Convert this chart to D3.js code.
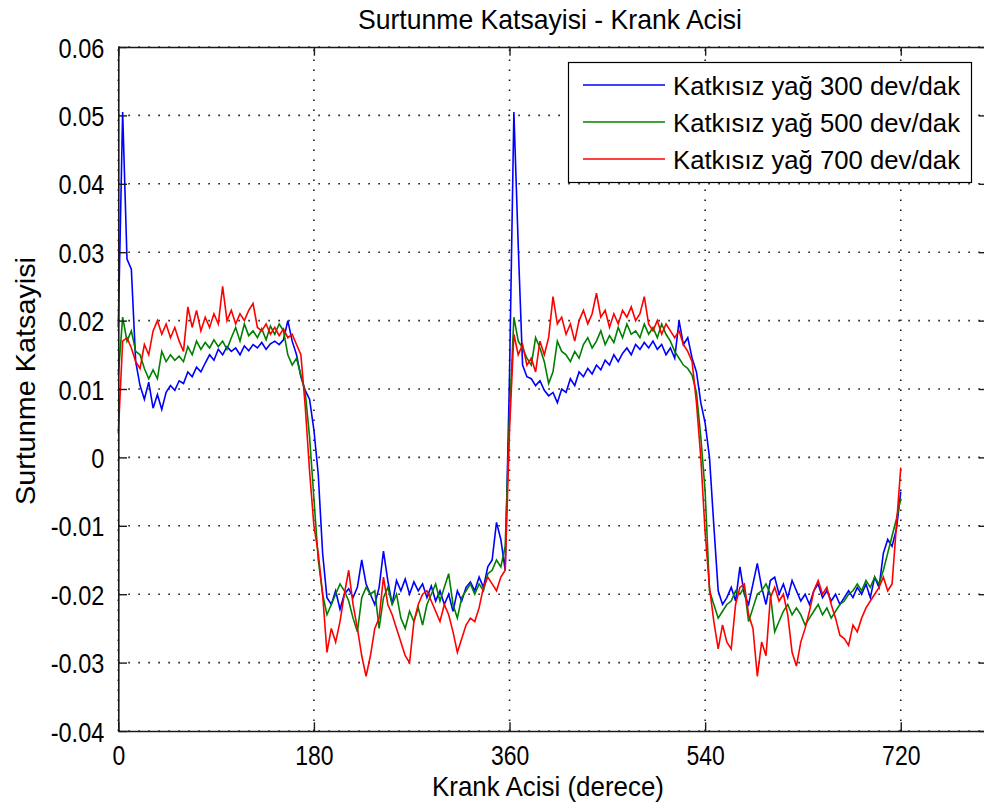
<!DOCTYPE html>
<html>
<head>
<meta charset="utf-8">
<script src="https://cdn.jsdelivr.net/npm/d3@7"></script>
<style>
  body { margin: 0; background: #fff; }
  svg { display: block; }
  text { font-family: 'Liberation Sans', Arial, sans-serif; fill: #000; }
</style>
</head>
<body>
<svg id="chart" width="984" height="809"></svg>
<script>
// Crank angle samples (degrees)
const angles = [
  0,4,8,12,16,20,24,28,32,36,40,44,48,52,56,60,64,68,72,76,80,84,88,92,96,100,
  104,108,112,116,120,124,128,132,136,140,144,148,152,156,160,164,168,172,176,180,
  184,188,192,196,200,204,208,212,216,220,224,228,232,236,240,244,248,252,256,260,
  264,268,272,276,280,284,288,292,296,300,304,308,312,316,320,324,328,332,336,340,
  344,348,352,356,360,364,368,372,376,380,384,388,392,396,400,404,408,412,416,420,
  424,428,432,436,440,444,448,452,456,460,464,468,472,476,480,484,488,492,496,500,
  504,508,512,516,520,524,528,532,536,540,544,548,552,556,560,564,568,572,576,580,
  584,588,592,596,600,604,608,612,616,620,624,628,632,636,640,644,648,652,656,660,
  664,668,672,676,680,684,688,692,696,700,704,708,712,716,720
];

// Friction coefficient, plain oil at 300 rpm
const oil300 = [
  0.0190,0.0505,0.0290,0.0275,0.0140,0.0105,0.0085,0.0110,0.0072,0.0092,0.0070,0.0095,0.0105,0.0098,0.0112,0.0108,
  0.0125,0.0118,0.0132,0.0125,0.0138,0.0150,0.0142,0.0158,0.0150,0.0162,0.0155,0.0160,0.0150,0.0163,0.0156,0.0165,
  0.0160,0.0168,0.0158,0.0166,0.0170,0.0165,0.0172,0.0200,0.0170,0.0150,0.0118,0.0098,0.0085,0.0040,
  -0.0025,-0.0140,-0.0205,-0.0215,-0.0195,-0.0222,-0.0200,-0.0192,-0.0205,-0.0190,-0.0150,-0.0185,-0.0200,-0.0215,
  -0.0190,-0.0137,-0.0180,-0.0215,-0.0180,-0.0195,-0.0178,-0.0200,-0.0182,-0.0195,-0.0185,-0.0205,-0.0188,-0.0210,
  -0.0195,-0.0215,-0.0200,-0.0225,-0.0195,-0.0210,-0.0190,-0.0182,-0.0195,-0.0175,-0.0190,-0.0160,-0.0150,-0.0095,
  -0.0120,-0.0165,0.0120,0.0505,0.0310,0.0135,0.0118,0.0115,0.0105,0.0112,0.0098,0.0090,0.0095,0.0080,0.0100,0.0095,
  0.0115,0.0105,0.0125,0.0118,0.0130,0.0122,0.0135,0.0128,0.0142,0.0135,0.0150,0.0140,0.0152,0.0160,0.0150,0.0165,
  0.0158,0.0168,0.0160,0.0170,0.0158,0.0165,0.0150,0.0160,0.0145,0.0200,0.0165,0.0175,0.0145,0.0125,0.0080,0.0050,
  0.0000,-0.0100,-0.0195,-0.0215,-0.0205,-0.0190,-0.0210,-0.0160,-0.0200,-0.0215,-0.0185,-0.0155,-0.0190,-0.0215,
  -0.0180,-0.0175,-0.0200,-0.0185,-0.0205,-0.0180,-0.0195,-0.0210,-0.0200,-0.0215,-0.0195,-0.0185,-0.0205,-0.0195,
  -0.0210,-0.0200,-0.0215,-0.0205,-0.0195,-0.0205,-0.0190,-0.0200,-0.0185,-0.0205,-0.0175,-0.0190,-0.0140,-0.0120,
  -0.0130,-0.0105,-0.0050
];

// Friction coefficient, plain oil at 500 rpm
const oil500 = [
  0.0120,0.0205,0.0170,0.0185,0.0155,0.0150,0.0130,0.0115,0.0128,0.0115,0.0155,0.0140,0.0150,0.0142,0.0148,0.0140,
  0.0162,0.0150,0.0170,0.0158,0.0168,0.0160,0.0172,0.0162,0.0170,0.0158,0.0175,0.0190,0.0170,0.0195,0.0178,0.0185,
  0.0175,0.0188,0.0172,0.0192,0.0180,0.0195,0.0185,0.0150,0.0135,0.0145,0.0120,0.0095,0.0030,-0.0060,
  -0.0150,-0.0200,-0.0230,-0.0215,-0.0200,-0.0185,-0.0195,-0.0210,-0.0235,-0.0255,-0.0205,-0.0190,-0.0200,-0.0195,
  -0.0250,-0.0205,-0.0190,-0.0215,-0.0200,-0.0235,-0.0250,-0.0225,-0.0240,-0.0220,-0.0245,-0.0215,-0.0200,-0.0185,
  -0.0210,-0.0190,-0.0170,-0.0215,-0.0235,-0.0205,-0.0195,-0.0185,-0.0200,-0.0185,-0.0195,-0.0170,-0.0165,-0.0150,
  -0.0160,-0.0130,0.0060,0.0205,0.0170,0.0160,0.0145,0.0135,0.0175,0.0160,0.0140,0.0108,0.0125,0.0170,0.0155,0.0150,
  0.0140,0.0155,0.0145,0.0165,0.0175,0.0160,0.0170,0.0185,0.0165,0.0178,0.0168,0.0190,0.0175,0.0195,0.0180,0.0185,
  0.0175,0.0195,0.0180,0.0190,0.0175,0.0195,0.0180,0.0170,0.0155,0.0145,0.0135,0.0130,0.0120,0.0095,0.0030,-0.0050,
  -0.0195,-0.0215,-0.0235,-0.0225,-0.0215,-0.0210,-0.0195,-0.0200,-0.0190,-0.0240,-0.0220,-0.0200,-0.0195,-0.0185,
  -0.0200,-0.0255,-0.0240,-0.0225,-0.0215,-0.0230,-0.0220,-0.0230,-0.0245,-0.0235,-0.0225,-0.0215,-0.0230,-0.0220,
  -0.0235,-0.0225,-0.0215,-0.0210,-0.0200,-0.0195,-0.0185,-0.0195,-0.0180,-0.0190,-0.0175,-0.0185,-0.0165,-0.0140,
  -0.0115,-0.0090,-0.0060
];

// Friction coefficient, plain oil at 700 rpm
const oil700 = [
  0.0035,0.0170,0.0175,0.0160,0.0140,0.0130,0.0165,0.0150,0.0185,0.0200,0.0180,0.0195,0.0175,0.0190,0.0170,0.0155,
  0.0220,0.0190,0.0215,0.0185,0.0205,0.0190,0.0210,0.0195,0.0250,0.0200,0.0215,0.0195,0.0210,0.0200,0.0215,0.0225,
  0.0190,0.0185,0.0195,0.0180,0.0190,0.0178,0.0188,0.0175,0.0180,0.0165,0.0150,0.0075,-0.0020,-0.0100,
  -0.0140,-0.0200,-0.0285,-0.0250,-0.0270,-0.0240,-0.0200,-0.0165,-0.0215,-0.0250,-0.0290,-0.0320,-0.0290,-0.0250,
  -0.0235,-0.0175,-0.0215,-0.0230,-0.0250,-0.0270,-0.0290,-0.0300,-0.0240,-0.0215,-0.0200,-0.0195,-0.0210,-0.0225,
  -0.0240,-0.0215,-0.0230,-0.0255,-0.0285,-0.0265,-0.0245,-0.0235,-0.0240,-0.0220,-0.0190,-0.0175,-0.0185,-0.0195,
  -0.0175,-0.0165,0.0040,0.0180,0.0150,0.0165,0.0135,0.0145,0.0125,0.0170,0.0150,0.0175,0.0235,0.0195,0.0205,0.0180,
  0.0195,0.0170,0.0200,0.0215,0.0195,0.0210,0.0240,0.0205,0.0215,0.0190,0.0210,0.0195,0.0215,0.0205,0.0220,0.0200,
  0.0210,0.0235,0.0195,0.0185,0.0200,0.0180,0.0195,0.0185,0.0175,0.0185,0.0165,0.0155,0.0140,0.0080,0.0000,-0.0110,
  -0.0190,-0.0240,-0.0280,-0.0245,-0.0270,-0.0280,-0.0215,-0.0190,-0.0185,-0.0230,-0.0250,-0.0320,-0.0270,-0.0290,
  -0.0205,-0.0190,-0.0210,-0.0200,-0.0230,-0.0285,-0.0305,-0.0270,-0.0250,-0.0225,-0.0195,-0.0180,-0.0200,-0.0190,
  -0.0215,-0.0235,-0.0260,-0.0265,-0.0275,-0.0245,-0.0255,-0.0235,-0.0220,-0.0210,-0.0200,-0.0190,-0.0175,-0.0195,
  -0.0185,-0.0100,-0.0015
];

const seriesNames = ["Katkısız yağ 300 dev/dak", "Katkısız yağ 500 dev/dak", "Katkısız yağ 700 dev/dak"];
const seriesColors = ["#0000ff", "#008000", "#ff0000"];

const xTicks = [0, 180, 360, 540, 720];
const xTickLabels = ["0", "180", "360", "540", "720"];
const yTicks = [-0.04, -0.03, -0.02, -0.01, 0, 0.01, 0.02, 0.03, 0.04, 0.05, 0.06];
const yTickLabels = ["-0.04", "-0.03", "-0.02", "-0.01", "0", "0.01", "0.02", "0.03", "0.04", "0.05", "0.06"];

const titleText = "Surtunme Katsayisi - Krank Acisi";
const xLabelText = "Krank Acisi (derece)";
const yLabelText = "Surtunme Katsayisi";

const svg = d3.select("#chart");
const plotLeft = 118.3, plotRight = 987.7, plotTop = 47, plotBottom = 731;

const x = d3.scaleLinear().domain([0, 800]).range([plotLeft, plotRight]);
const y = d3.scaleLinear().domain([-0.04, 0.06]).range([plotBottom, plotTop]);

// Narrow the glyphs of a text selection by a horizontal factor
function condense(sel, factor) {
  sel.each(function () {
    const w = this.getComputedTextLength();
    d3.select(this).attr("textLength", w * factor).attr("lengthAdjust", "spacingAndGlyphs");
  });
}

svg.append("rect").attr("x", 0).attr("y", 0).attr("width", 984).attr("height", 809).attr("fill", "#fff");

// Dotted grid
const grid = svg.append("g").attr("stroke", "#1a1a1a").attr("stroke-width", 1.6)
  .attr("stroke-dasharray", "1.6,8.4").attr("fill", "none");
grid.selectAll(".gx").data(xTicks).join("line")
  .attr("x1", d => x(d)).attr("x2", d => x(d))
  .attr("y1", plotBottom).attr("y2", plotTop);
grid.selectAll(".gy").data(yTicks).join("line")
  .attr("x1", plotLeft).attr("x2", plotRight)
  .attr("y1", d => y(d)).attr("y2", d => y(d));

// Data lines
const series = [oil300, oil500, oil700];
const line = d3.line().x((d, i) => x(angles[i])).y(d => y(d));
const plot = svg.append("g");
series.forEach((vals, k) => {
  plot.append("path")
    .datum(vals)
    .attr("fill", "none")
    .attr("stroke", seriesColors[k])
    .attr("stroke-width", 1.6)
    .attr("stroke-linejoin", "miter")
    .attr("d", line);
});

// Axes (ticks pointing inward, MATLAB style)
const tickLen = 8.7;
const axisColor = "#1a1a1a";
const fontTick = 28;

const xAxis = d3.axisBottom(x).tickValues(xTicks).tickFormat((d, i) => xTickLabels[i])
  .tickSizeInner(-tickLen).tickSizeOuter(0).tickPadding(14);
const gx = svg.append("g").attr("transform", `translate(0,${plotBottom})`).call(xAxis);
const yAxis = d3.axisLeft(y).tickValues(yTicks).tickFormat((d, i) => yTickLabels[i])
  .tickSizeInner(-tickLen).tickSizeOuter(0).tickPadding(14);
const gy = svg.append("g").attr("transform", `translate(${plotLeft},0)`).call(yAxis);
const xAxisTop = d3.axisTop(x).tickValues(xTicks).tickFormat("").tickSizeInner(-tickLen).tickSizeOuter(0);
const gxt = svg.append("g").attr("transform", `translate(0,${plotTop})`).call(xAxisTop);
const yAxisRight = d3.axisRight(y).tickValues(yTicks).tickFormat("").tickSizeInner(-tickLen).tickSizeOuter(0);
const gyr = svg.append("g").attr("transform", `translate(${plotRight},0)`).call(yAxisRight);

[gx, gy, gxt, gyr].forEach(g => {
  g.attr("font-family", null).attr("font-size", null);
  g.select(".domain").attr("stroke", axisColor).attr("stroke-width", 1.6);
  g.selectAll(".tick line").attr("stroke", axisColor).attr("stroke-width", 1.4);
  g.selectAll(".tick text").style("font-size", fontTick + "px").attr("fill", "#000");
});
gy.selectAll(".tick text").attr("dy", "0.36em");
condense(gx.selectAll(".tick text"), 0.82);
condense(gy.selectAll(".tick text"), 0.84);

// Title and axis labels
svg.append("text").attr("x", 550).attr("y", 29).attr("text-anchor", "middle")
  .style("font-size", "28px").attr("textLength", 384).attr("lengthAdjust", "spacingAndGlyphs")
  .text(titleText);
svg.append("text").attr("x", 548).attr("y", 796).attr("text-anchor", "middle")
  .style("font-size", "28px").attr("textLength", 232).attr("lengthAdjust", "spacingAndGlyphs")
  .text(xLabelText);
svg.append("text").attr("transform", "translate(35,381) rotate(-90)").attr("text-anchor", "middle")
  .style("font-size", "28px").attr("textLength", 248).attr("lengthAdjust", "spacingAndGlyphs")
  .text(yLabelText);

// Legend
const legend = svg.append("g");
legend.append("rect").attr("x", 568.5).attr("y", 62.5).attr("width", 403).attr("height", 120)
  .attr("fill", "#fff").attr("stroke", "#000").attr("stroke-width", 1.2);
const rowY = [85, 122, 159];
seriesNames.forEach((name, k) => {
  legend.append("line").attr("x1", 583).attr("x2", 665).attr("y1", rowY[k]).attr("y2", rowY[k])
    .attr("stroke", seriesColors[k]).attr("stroke-width", 1.6);
  legend.append("text").attr("x", 673).attr("y", rowY[k]).attr("dy", "0.36em")
    .style("font-size", "26.5px").attr("textLength", 287).attr("lengthAdjust", "spacingAndGlyphs")
    .text(name);
});
</script>
</body>
</html>
